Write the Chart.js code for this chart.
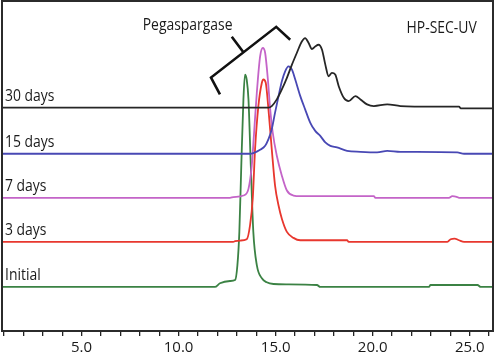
<!DOCTYPE html>
<html>
<head>
<meta charset="utf-8">
<script src="https://cdn.jsdelivr.net/npm/chart.js@4.4.0/dist/chart.umd.min.js"></script>
<style>
  html, body { margin: 0; padding: 0; background: #fff; }
</style>
</head>
<body>
<canvas id="secChart" width="495" height="363"></canvas>
<script>
// trace names, top to bottom
const traceNames = ['30 days', '15 days', '7 days', '3 days', 'Initial'];
const traceColors = ['#262626', '#4848b4', '#c464c8', '#e8372e', '#3b8244'];

// retention time (min) and UV signal (a.u., stacked offsets)
const day30Time = [0.8, 14.63, 14.80, 15.06, 15.32, 15.58, 15.84, 16.09, 16.35, 16.52, 16.70, 16.87, 17.04, 17.21, 17.39, 17.56, 17.73, 17.90, 18.07, 18.25, 18.51, 18.76, 19.11, 19.37, 19.71, 20.06, 20.75, 21.43, 23.16, 24.45, 24.54, 26.4];
const day30Signal = [224.7, 224.7, 226.3, 233.0, 243.0, 254.7, 268.0, 279.7, 291.3, 294.7, 289.7, 283.7, 286.3, 288.0, 283.0, 268.0, 256.3, 259.7, 258.0, 246.3, 234.7, 231.3, 236.3, 233.0, 228.0, 226.3, 228.0, 226.3, 225.7, 225.7, 224.0, 224.0];

const day15Time = [0.8, 13.68, 13.85, 14.20, 14.46, 14.63, 14.80, 14.97, 15.15, 15.32, 15.49, 15.66, 15.84, 16.01, 16.27, 16.52, 16.78, 17.04, 17.30, 17.56, 17.82, 18.16, 18.68, 19.37, 20.23, 20.75, 21.43, 22.30, 24.36, 24.71, 26.4];
const day15Signal = [178.3, 178.3, 179.0, 182.3, 186.3, 193.0, 203.0, 219.7, 236.3, 251.3, 261.3, 266.3, 263.0, 253.0, 236.3, 223.0, 209.7, 201.3, 196.3, 189.7, 186.3, 184.7, 181.3, 180.3, 179.7, 181.3, 180.3, 180.3, 179.7, 178.3, 178.3];

const day7Time = [0.8, 12.65, 12.82, 13.34, 13.60, 13.77, 13.89, 14.03, 14.20, 14.34, 14.46, 14.60, 14.72, 14.85, 15.06, 15.32, 15.58, 15.92, 16.27, 20.06, 20.14, 23.93, 24.10, 24.33, 24.45, 26.4];
const day7Signal = [134.0, 134.0, 134.7, 136.3, 143.0, 166.3, 199.7, 239.7, 276.3, 284.7, 279.7, 253.0, 223.0, 199.7, 176.3, 156.3, 141.3, 136.3, 135.7, 135.7, 134.0, 134.0, 135.7, 135.0, 134.0, 134.0];

const day3Time = [0.8, 12.82, 12.91, 13.17, 13.51, 13.68, 13.82, 13.94, 14.11, 14.29, 14.37, 14.49, 14.63, 14.80, 14.97, 15.15, 15.32, 15.58, 15.92, 16.27, 18.68, 18.76, 23.85, 24.02, 24.22, 24.45, 24.71, 26.4];
const day3Signal = [89.7, 89.7, 90.3, 91.0, 92.3, 106.3, 133.0, 183.0, 226.3, 249.7, 253.0, 249.7, 223.0, 183.0, 146.3, 126.3, 113.0, 99.7, 93.7, 91.3, 91.3, 89.7, 89.7, 92.3, 93.0, 91.3, 89.7, 89.7];

const initialTime = [0.8, 11.87, 12.13, 12.65, 12.91, 13.03, 13.13, 13.23, 13.34, 13.42, 13.51, 13.60, 13.72, 13.85, 14.03, 14.29, 14.54, 14.89, 15.58, 17.13, 17.30, 22.90, 22.98, 25.40, 25.57, 26.4];
const initialSignal = [44.3, 44.3, 48.0, 50.3, 51.3, 66.3, 99.7, 166.3, 233.0, 258.0, 253.0, 233.0, 166.3, 99.7, 66.3, 53.0, 49.0, 47.3, 47.0, 46.3, 44.3, 44.3, 46.3, 46.3, 44.3, 44.3];

// Pegaspargase bracket (data units), null breaks the stroke
const bracketTime = [12.13, 11.67, 15.03, 15.75, 13.3, 13.32, 12.74];
const bracketSignal = [238, 255, 306, 293, null, 281, 296];

// axis ticks
const majorTicks = [5, 10, 15, 20, 25];

const traceTimes = [day30Time, day15Time, day7Time, day3Time, initialTime];
const traceSignals = [day30Signal, day15Signal, day7Signal, day3Signal, initialSignal];

function toPoints(xs, ys) {
  return xs.map((x, i) => ({ x: x, y: ys[i] }));
}

// draws text squeezed a bit, the original font is a narrow one
function drawNarrow(ctx, text, x, y, align) {
  ctx.save();
  ctx.translate(x, y);
  ctx.scale(0.87, 1);
  ctx.textAlign = align;
  ctx.fillText(text, 0, 0);
  ctx.restore();
}

const textPlugin = {
  id: 'traceText',
  afterDatasetsDraw(chart) {
    const ctx = chart.ctx;
    const xs = chart.scales.x;
    const ys = chart.scales.y;
    const area = chart.chartArea;
    ctx.save();
    ctx.fillStyle = '#1a1a1a';
    ctx.font = '16px "Open Sans"';
    ctx.textBaseline = 'alphabetic';
    traceNames.forEach((name, i) => {
      const py = ys.getPixelForValue(traceSignals[i][0]) - 7;
      drawNarrow(ctx, name, area.left + 3, py, 'left');
    });
    drawNarrow(ctx, 'Pegaspargase', xs.getPixelForValue(8.15), ys.getPixelForValue(303), 'left');
    drawNarrow(ctx, 'HP-SEC-UV', xs.getPixelForValue(25.36), ys.getPixelForValue(300), 'right');

    // frame round the plot
    ctx.strokeStyle = '#2b2b2b';
    ctx.lineWidth = 2;
    ctx.strokeRect(area.left, area.top, area.right - area.left, area.bottom - area.top);
    ctx.restore();
  }
};

const datasets = traceNames.map((name, i) => ({
  label: name,
  data: toPoints(traceTimes[i], traceSignals[i]),
  borderColor: traceColors[i],
  borderWidth: 1.8,
  pointRadius: 0,
  cubicInterpolationMode: 'monotone',
  fill: false
}));

datasets.unshift({
  label: 'Pegaspargase',
  data: toPoints(bracketTime, bracketSignal),
  borderColor: '#111',
  borderWidth: 2.6,
  pointRadius: 0,
  tension: 0,
  spanGaps: false,
  fill: false
});

new Chart(document.getElementById('secChart'), {
  type: 'line',
  data: { datasets: datasets },
  options: {
    responsive: false,
    animation: false,
    layout: { padding: { left: 2, right: 2, top: 1, bottom: 3 } },
    plugins: {
      legend: { display: false },
      tooltip: { enabled: false }
    },
    scales: {
      x: {
        type: 'linear',
        min: 0.9,
        max: 26.2,
        border: { display: true, color: '#222', width: 2 },
        grid: {
          display: true,
          drawOnChartArea: false,
          drawTicks: true,
          tickLength: 5,
          color: '#222',
          lineWidth: 1.3
        },
        ticks: {
          stepSize: 1,
          includeBounds: false,
          autoSkip: false,
          maxRotation: 0,
          padding: 3,
          color: '#1a1a1a',
          font: { family: '"Open Sans"', size: 15 },
          callback: value => majorTicks.includes(value) ? value.toFixed(1) : ''
        }
      },
      y: {
        display: false,
        min: 0,
        max: 332
      }
    }
  },
  plugins: [textPlugin]
});
</script>
</body>
</html>
